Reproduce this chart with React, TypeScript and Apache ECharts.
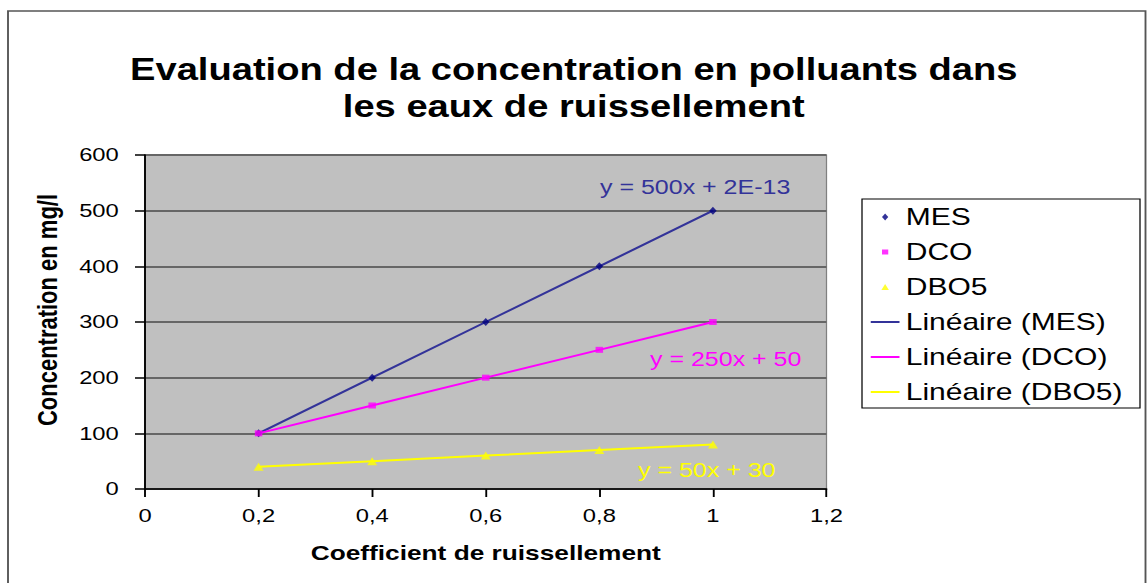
import React, { useEffect, useRef } from "react";
import * as echarts from "echarts";

const xValues = [0.2, 0.4, 0.6, 0.8, 1];
const mesValues = [100, 200, 300, 400, 500];
const dcoValues = [100, 150, 200, 250, 300];
const dbo5Values = [40, 50, 60, 70, 80];
const seriesNames = ["MES", "DCO", "DBO5"];
const trendNames = ["Linéaire (MES)", "Linéaire (DCO)", "Linéaire (DBO5)"];
const equations = ["y = 500x + 2E-13", "y = 250x + 50", "y = 50x + 30"];
const titleText = "Evaluation de la concentration en polluants dans\nles eaux de ruissellement";

const S = 1.25; // horizontal stretch of the picture
const W = 1147 / S;
const FONT = "'Liberation Sans', Arial, sans-serif";

const pairs = (ys: number[]) => xValues.map((x, i) => [x, ys[i]]);

export default function App() {
  const ref = useRef<HTMLDivElement>(null);
  useEffect(() => {
    if (!ref.current) return;
    const chart = echarts.init(ref.current, null, { renderer: "svg" });
    const colors = ["#000080", "#FF00FF", "#FFFF00"];
    const lineColors = ["#333399", "#FF00FF", "#FFFF00"];
    const symbols = ["diamond", "rect", "triangle"];
    const sizes: any[] = [[6, 8], [6, 6], [8, 8]];
    const iconPaths = [
      "path://M0,0M23,14M11.5,3.5L14,7L11.5,10.5L9,7Z",
      "path://M0,0M23,14M9,4.5L14,4.5L14,9.5L9,9.5Z",
      "path://M0,0M23,14M11.5,4L14.5,10L8.5,10Z",
    ];
    const lineIcon = "path://M0,0M23,14M0,6L23,6L23,8L0,8Z";
    const data = [mesValues, dcoValues, dbo5Values];
    const option: any = {
      animation: false,
      textStyle: { fontFamily: FONT },
      title: {
        text: titleText,
        left: "center",
        top: 46,
        textStyle: { fontSize: 30.5, fontWeight: "bold", color: "#000", lineHeight: 37, fontFamily: FONT },
      },
      grid: {
        left: 116,
        right: W - 660.8,
        top: 155,
        bottom: 94,
        show: true,
        backgroundColor: "#C0C0C0",
        borderColor: "#808080",
        borderWidth: 1,
        outerBoundsMode: "none",
      },
      xAxis: {
        type: "value",
        min: 0,
        max: 1.2,
        interval: 0.2,
        name: "Coefficient de ruissellement",
        nameLocation: "middle",
        nameGap: 53,
        nameTextStyle: { fontSize: 21, fontWeight: "bold", color: "#000", fontFamily: FONT },
        axisLine: { show: true, onZero: false, lineStyle: { color: "#000", width: 1.5 } },
        axisTick: { show: true, length: 8, inside: false, lineStyle: { color: "#000", width: 1.5 } },
        axisLabel: {
          fontSize: 19,
          color: "#000",
          margin: 17,
          fontFamily: FONT,
          formatter: (v: number) => String(Math.round(v * 10) / 10).replace(".", ","),
        },
        splitLine: { show: false },
      },
      yAxis: {
        type: "value",
        min: 0,
        max: 600,
        interval: 100,
        name: "Concentration en mg/l",
        nameLocation: "middle",
        nameGap: 67,
        nameTextStyle: { fontSize: 22, fontWeight: "bold", color: "#000", fontFamily: FONT, padding: [0, 0, 0, 24] },
        axisLine: { show: true, onZero: false, lineStyle: { color: "#000", width: 1.5 } },
        axisTick: { show: true, length: 8, inside: false, lineStyle: { color: "#000", width: 1.5 } },
        axisLabel: { fontSize: 19, color: "#000", margin: 21, fontFamily: FONT },
        splitLine: { show: true, lineStyle: { color: "#666666", width: 2 } },
      },
      legend: {
        orient: "vertical",
        left: 689.6,
        top: 199,
        padding: [6, 14, 4, 7],
        itemWidth: 23,
        itemHeight: 14,
        itemGap: 11,
        borderColor: "#000",
        borderWidth: 1,
        backgroundColor: "#fff",
        textStyle: { fontSize: 24, color: "#000", fontFamily: FONT },
        data: [
          ...seriesNames.map((n, i) => ({ name: n, icon: iconPaths[i] })),
          ...trendNames.map((n, i) => ({ name: n, icon: lineIcon, itemStyle: { color: lineColors[i] } })),
        ],
      },
      graphic: [
        {
          type: "rect",
          silent: true,
          shape: { x: 6.4, y: 11, width: 910, height: 620 },
          style: { fill: "none", stroke: "#555", lineWidth: 1.5 },
          z: -10,
        },
        ...equations.map((t, i) => ({
          type: "text",
          silent: true,
          x: [480, 520, 510.4][i],
          y: [187, 359, 470][i],
          style: {
            text: t,
            fill: lineColors[i],
            fontSize: 20,
            fontFamily: FONT,
            verticalAlign: "middle",
            align: "left",
          },
          z: 10,
        })),
      ],
      series: [
        ...trendNames.map((n, i) => ({
          name: n,
          type: "line",
          data: pairs(data[i]),
          symbol: "none",
          showSymbol: false,
          lineStyle: { color: lineColors[i], width: 2 },
          itemStyle: { color: lineColors[i] },
          z: 2,
        })),
        ...seriesNames.map((n, i) => ({
          name: n,
          type: "scatter",
          data: pairs(data[i]),
          symbol: symbols[i],
          symbolSize: sizes[i],
          itemStyle: { color: colors[i] },
          z: 3,
        })),
      ],
    };
    chart.setOption(option);
    return () => chart.dispose();
  }, []);
  return (
    <div style={{ position: "fixed", left: 0, top: 0, width: 1147, height: 583, overflow: "hidden", background: "#fff" }}>
      <div
        ref={ref}
        style={{ width: W, height: 583, transform: `scaleX(${S})`, transformOrigin: "0 0" }}
      />
    </div>
  );
}
